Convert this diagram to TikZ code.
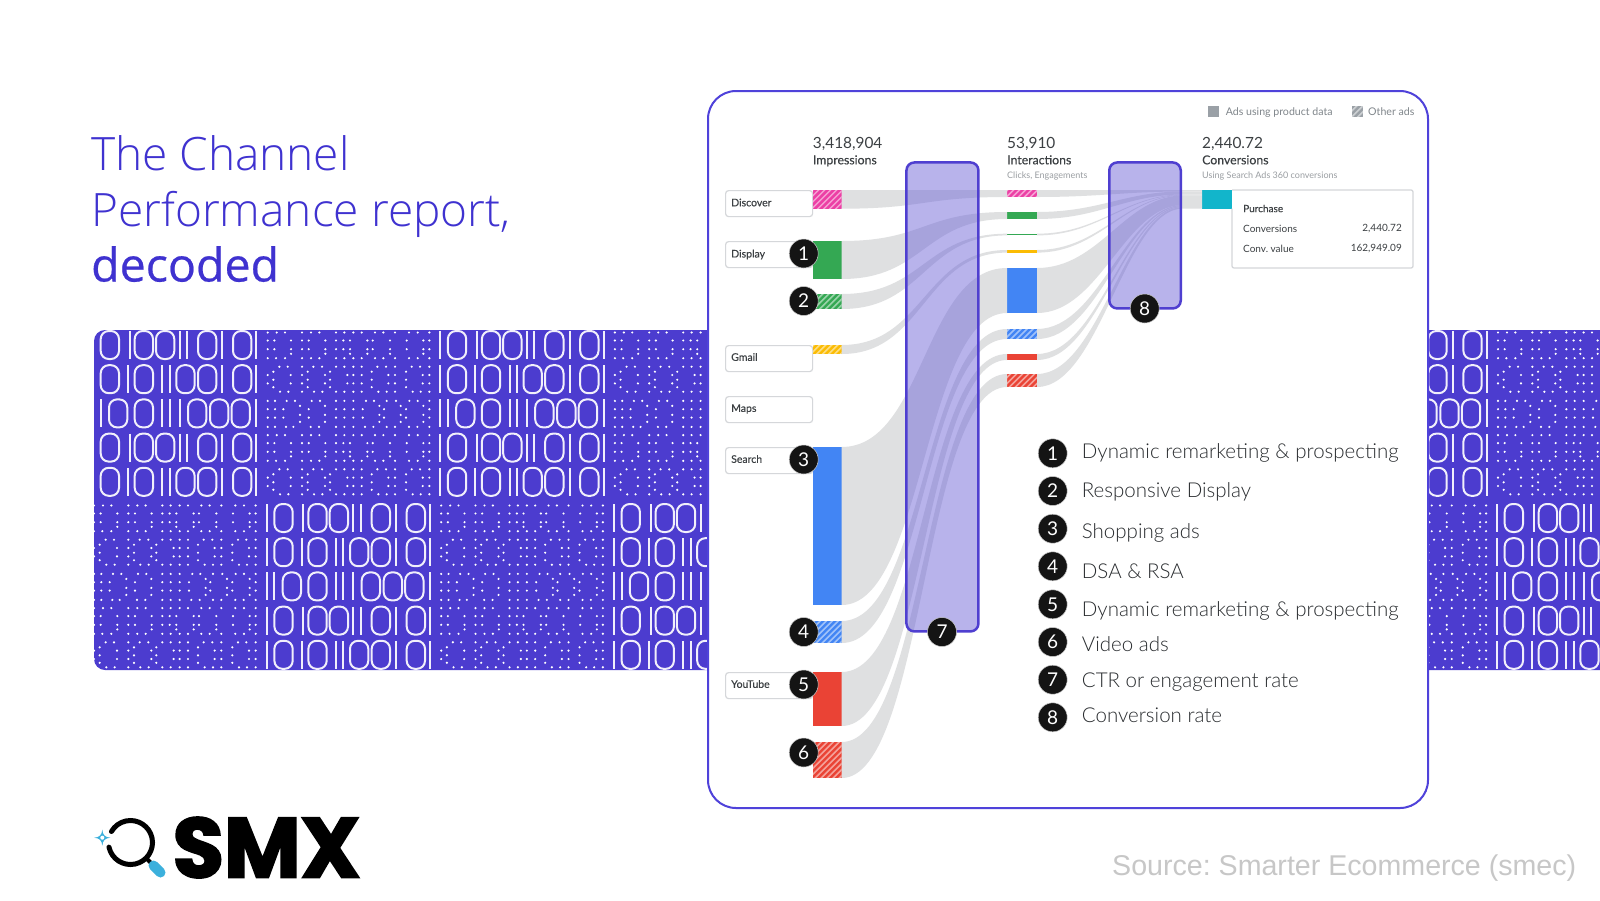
\documentclass[tikz,border=0pt]{standalone}
\usepackage{fontspec}
\setmainfont{Lato}
\newfontfamily\ttlfont{Open Sans Light}
\newfontfamily\ttlbold[FakeBold=0.5]{Open Sans}
\newfontfamily\listfont{Lato Light}
\newfontfamily\medfont[FakeBold=0.3]{Lato}
\newfontfamily\srcfont{Liberation Sans}
\newfontfamily\smxfont[FakeBold=2.5]{Poppins Bold}
\usetikzlibrary{calc}
\definecolor{band}{HTML}{4C3CCF}
\definecolor{cardline}{HTML}{4F42DA}
\definecolor{ttl}{HTML}{3F32D0}
\definecolor{rib}{HTML}{DFE0E1}
\definecolor{boxline}{HTML}{4F3FD0}
\definecolor{boxfill}{HTML}{6B61D7}
\definecolor{lblline}{HTML}{D5D7DA}
\definecolor{ink}{HTML}{3C4043}
\definecolor{listink}{HTML}{2A2D30}
\definecolor{sub}{HTML}{80868B}
\definecolor{cpink}{HTML}{EC3FA5}
\definecolor{cgreen}{HTML}{34A853}
\definecolor{cyellow}{HTML}{FBBC04}
\definecolor{cblue}{HTML}{4285F4}
\definecolor{cred}{HTML}{EA4335}
\definecolor{cteal}{HTML}{12B5CB}
\definecolor{lgrey}{HTML}{9AA0A6}
\definecolor{logoblue}{HTML}{3CB0DC}
\tikzset{
  binstroke/.style={draw=white!92!band,line width=2pt},
  lblbox/.style={draw=lblline,line width=1.2pt,fill=white,rounded corners=3pt,minimum width=87pt,minimum height=26pt,inner sep=0pt,anchor=north west},
  lbltext/.style={font=\medfont\fontsize{10.5}{12}\selectfont,text=ink,anchor=west,inner sep=0pt},
  sbar/.style={fill=#1,inner sep=0pt,outer sep=0pt,anchor=north west},
  hatch/.style={path picture={
    \foreach \k in {-90,-84,...,90}
      \draw[white,opacity=.5,line width=1.5pt,shift={(path picture bounding box.center)}] (\k-70,70) -- (\k+70,-70);}},
  ribbon/.style={fill=rib,draw=none},
  kpi/.style={font=\fontsize{15.4}{18}\selectfont,text=ink,anchor=base west,inner sep=0pt},
  kpilab/.style={font=\medfont\fontsize{12.3}{14}\selectfont,text=ink,anchor=base west,inner sep=0pt},
  kpisub/.style={font=\fontsize{9}{11}\selectfont,text=sub!80,anchor=base west,inner sep=0pt},
  smalltxt/.style={font=\fontsize{10}{12}\selectfont,text=ink,inner sep=0pt},
  legtxt/.style={font=\fontsize{10.6}{12}\selectfont,text=sub,anchor=base west,inner sep=0pt},
  funnel/.style={draw=boxline,line width=2.5pt,fill=boxfill,fill opacity=.48,rounded corners=8pt,inner sep=0pt,anchor=north west},
  marker/.style={circle,fill=black!92,draw=white!80!black,line width=.5pt,text=white,inner sep=0pt,minimum size=29pt,font=\fontsize{19}{20}\selectfont},
  listtxt/.style={font=\listfont\fontsize{20.5}{24}\selectfont,text=listink,anchor=base west,inner sep=0pt},
  ttltxt/.style={font=\ttlfont\fontsize{46}{50}\selectfont,text=ttl,anchor=base west,inner sep=0pt},
}
% binary glyph row: x0, top y, bars, zeros
\newcommand{\binrow}[4]{%
  \foreach \b in {#3} \draw[binstroke] ({#1+\b},#2) -- ({#1+\b},{#2+28});
  \foreach \o in {#4} \draw[binstroke,rounded corners=8pt] ({#1+\o},#2) rectangle ({#1+\o+18.3},{#2+28});
}
\newcommand{\rowA}[2]{\binrow{#1}{#2}{0,36.7,86.7,94,129.3,163.3}{7.7,41.7,63,105,140}}
\newcommand{\rowB}[2]{\binrow{#1}{#2}{0,35,69.3,76.7,129.3,163.3}{7.7,41.7,83.3,105,140}}
\newcommand{\rowC}[2]{\binrow{#1}{#2}{0,7.7,69.3,76.7,86.7,163.3}{16,41.7,95,117,138.5}}
\newcommand{\binblock}[2]{\rowA{#1}{#2}\rowB{#1}{#2+34.2}\rowC{#1}{#2+68.4}\rowA{#1}{#2+102.6}\rowB{#1}{#2+136.8}}
% dotted cell rows
\newcommand{\dl}[3]{\foreach \x in {#3} \fill[white] ({#1+(\x-20)/3},{#2}) circle[radius=1.2pt];}
\newcommand{\dotA}[2]{%
  \dl{#1}{#2+1.5}{23,50,75,126,153,178,228,253,280,305,345,370,405,447,473,508}
  \dl{#1}{#2+9.5}{23,43,93,126,146,196,228,250,270,322,338,390,440,490,508}
  \dl{#1}{#2+18.2}{23,43,93,126,146,196,228,250,270,322,338,390,440,490,508}
  \dl{#1}{#2+22.8}{93,196,270,322,390,490}
  \dl{#1}{#2+27.2}{23,48,75,126,153,178,228,253,280,305,345,370,405,447,473,508}}
\newcommand{\dotB}[2]{%
  \dl{#1}{#2+1.5}{58,83,126,160,186,228,253,280,305,352,378,405,455,480,508}
  \dl{#1}{#2+6.5}{40,143,210,335,438}
  \dl{#1}{#2+9.8}{23,92,126,195,262,280,305,385,405,488,508}
  \dl{#1}{#2+14.5}{40,143,210,335,438}
  \dl{#1}{#2+18.2}{23,92,126,195,262,280,305,385,405,488,508}
  \dl{#1}{#2+22}{40,143,210,335,438}
  \dl{#1}{#2+26.5}{60,85,126,162,187,228,253,280,305,355,380,405,458,482,508}}
\newcommand{\dotC}[2]{%
  \dl{#1}{#2+1.5}{23,45,80,105,155,180,228,253,280,318,342,380,408,448,473,508}
  \dl{#1}{#2+6.5}{120,195,358,422,490}
  \dl{#1}{#2+9.8}{23,45,70,146,228,253,280,308,372,438,508}
  \dl{#1}{#2+15.5}{120,195,358,422,490}
  \dl{#1}{#2+18.2}{23,45,70,146,228,253,280,308,372,438,508}
  \dl{#1}{#2+22.5}{120,195,358,422,490}
  \dl{#1}{#2+27.5}{23,45,78,100,152,177,228,253,280,315,340,380,405,447,472,508}}
\newcommand{\dotblock}[2]{\dotA{#1}{#2}\dotB{#1}{#2+34.2}\dotC{#1}{#2+68.4}\dotA{#1}{#2+102.6}\dotB{#1}{#2+136.8}}
% bar node: name, x1,y1,x2,y2, colour, extra
\newcommand{\barnode}[7][]{\node[sbar=#6,minimum width={#4-#2},minimum height={#5-#3},#7] (#1) at (#2,#3) {};}
% ribbon stage 1: from node to node via mid coordinate m1
\newcommand{\ribA}[2]{\path[ribbon] (#1.north east) .. controls (m1 |- #1.north east) and (m1 |- #2.north west) .. (#2.north west)
  -- (#2.south west) .. controls (m1 |- #2.south west) and (m1 |- #1.south east) .. (#1.south east) -- cycle;}
% ribbon stage 2: from node to stack coordinates in front of the conversions bar
\newcommand{\ribB}[3]{\path[ribbon] (#1.north east) .. controls (m2 |- #1.north east) and (m3 |- #2) .. (#2) -- (cv.north west |- #2)
  -- (cv.north west |- #3) -- (#3) .. controls (m3 |- #3) and (m2 |- #1.south east) .. (#1.south east) -- cycle;}
\begin{document}
\frenchspacing
\begin{tikzpicture}[x=1pt,y=-1pt]
\useasboundingbox (0,0) rectangle (1600,900);
\fill[white] (0,0) rectangle (1600,900);
% band
\begin{scope}
  \clip[rounded corners=11pt] (94,330) rectangle (1640,670);
  \fill[band] (90,325) rectangle (1600,675);
  \binblock{93}{331}\binblock{440.2}{331}
  \binblock{266.7}{504}\binblock{613.9}{504}
  \dotblock{266.7}{331}\dotblock{613.9}{331}
  \dotblock{93}{504}\dotblock{440.2}{504}
  \binblock{1323.4}{331}\dotblock{1497}{331}
  \dotblock{1323.4}{504}\binblock{1497}{504}
\end{scope}
% title
\node[ttltxt] (t1) at (91,170.3) {The Channel};
\node[ttltxt] (t2) at (91,226) {Performance report,};
\node[ttltxt,font=\ttlbold\fontsize{46.5}{50}\selectfont] (t3) at (91,281.5) {decoded};
% card
\node[draw=cardline,line width=2pt,fill=white,rounded corners=28pt,inner sep=0pt,anchor=north west,minimum width=720pt,minimum height=717pt] (card) at (707,90) {};
% legend at top
\node[sbar=lgrey,minimum width=11.6pt,minimum height=11pt] (lg1) at (1207.7,105.7) {};
\node[legtxt] (lg1t) at (1225.7,115.5) {Ads using product data};
\node[sbar=lgrey,minimum width=11.6pt,minimum height=11pt,hatch] (lg2) at (1351.7,105.7) {};
\node[legtxt] (lg2t) at (1368,115.5) {Other ads};
% headers
\node[kpi] (k1) at (812.7,148) {3,418,904};
\node[kpilab] (k1l) at (812.7,164.3) {Impressions};
\node[kpi] (k2) at (1007,148) {53,910};
\node[kpilab] (k2l) at (1007,164.3) {Interactions};
\node[kpisub] (k2s) at (1007,178) {Clicks, Engagements};
\node[kpi] (k3) at (1202,148) {2,440.72};
\node[kpilab] (k3l) at (1202,164.3) {Conversions};
\node[kpisub] (k3s) at (1202,178) {Using Search Ads 360 conversions};
% channel labels
\node[lblbox] (lDisc) at (725,190) {};
\node[lblbox] (lDisp) at (725,241) {};
\node[lblbox] (lGm) at (725,345) {};
\node[lblbox] (lMap) at (725,396) {};
\node[lblbox] (lSe) at (725,447) {};
\node[lblbox] (lYt) at (725,672) {};
\node[lbltext] (lDiscT) at (731,202.5) {Discover};
\node[lbltext] (lDispT) at (731,254.5) {Display};
\node[lbltext] (lGmT) at (731,357) {Gmail};
\node[lbltext] (lMapT) at (731,409) {Maps};
\node[lbltext] (lSeT) at (731,459) {Search};
\node[lbltext] (lYtT) at (731,684) {YouTube};
% impression bars
\barnode[a1]{812.7}{190}{841.7}{208.7}{cpink}{hatch}
\barnode[a2]{812.7}{241}{841.7}{279}{cgreen}{}
\barnode[a3]{812.7}{294}{841.7}{309}{cgreen}{hatch}
\barnode[a4]{812.7}{345}{841.7}{354}{cyellow}{hatch}
\barnode[a5]{812.7}{447}{841.7}{605}{cblue}{}
\barnode[a6]{812.7}{621}{841.7}{643}{cblue}{hatch}
\barnode[a7]{812.7}{672}{841.7}{726}{cred}{}
\barnode[a8]{812.7}{742}{841.7}{778}{cred}{hatch}
% interaction bars
\barnode[b1]{1007}{190}{1037}{197}{cpink}{hatch}
\barnode[b2]{1007}{212}{1037}{219}{cgreen}{}
\barnode[b3]{1007}{233.7}{1037}{235.4}{cgreen}{}
\barnode[b4]{1007}{250}{1037}{252.6}{cyellow}{}
\barnode[b5]{1007}{268}{1037}{313}{cblue}{}
\barnode[b6]{1007}{329}{1037}{339}{cblue}{hatch}
\barnode[b7]{1007}{354}{1037}{360}{cred}{}
\barnode[b8]{1007}{374}{1037}{387}{cred}{hatch}
% conversion bar
\barnode[cv]{1202}{190}{1232}{208.5}{cteal}{}
% purchase box
\draw[lblline,line width=1.3pt,rounded corners=2pt] (cv.north east) -- (1413,190) -- (1413,268) -- (1232,268) -- (cv.south east);
\node[smalltxt,anchor=west,font=\medfont\fontsize{10}{12}\selectfont] (pu) at (1243,208.5) {Purchase};
\node[smalltxt,anchor=west] (pu1) at (1243,228.5) {Conversions};
\node[smalltxt,anchor=west] (pu2) at (1243,249) {Conv. value};
\node[smalltxt,anchor=east] (pu1v) at (1402,228.5) {2,440.72};
\node[smalltxt,anchor=east] (pu2v) at (1402,249) {162,949.09};
% ribbon helpers
\coordinate (m1) at (924,0);
\coordinate (m2) at (1100,0);
\coordinate (m3) at (1125,0);
\coordinate (s0) at (1183,190);
\coordinate (s1) at (1183,191.5);
\coordinate (s2) at (1183,194.5);
\coordinate (s3) at (1183,195);
\coordinate (s4) at (1183,195.5);
\coordinate (s5) at (1183,205);
\coordinate (s6) at (1183,206);
\coordinate (s7) at (1183,207);
\coordinate (s8) at (1183,208.5);
% ribbons
\ribA{a1}{b1}\ribA{a2}{b2}\ribA{a3}{b3}\ribA{a4}{b4}
\ribA{a5}{b5}\ribA{a6}{b6}\ribA{a7}{b7}\ribA{a8}{b8}
\ribB{b1}{s0}{s1}\ribB{b2}{s1}{s2}\ribB{b3}{s2}{s3}\ribB{b4}{s3}{s4}
\ribB{b5}{s4}{s5}\ribB{b6}{s5}{s6}\ribB{b7}{s6}{s7}\ribB{b8}{s7}{s8}
% funnel boxes
\node[funnel,minimum width=72pt,minimum height=469pt] (f7) at (905.2,161.2) {};
\node[funnel,minimum width=71.5pt,minimum height=146pt] (f8) at (1108,161.2) {};
% markers
\node[marker] (n1) at (803.7,253.5) {1};
\node[marker] (n2) at (803.7,301) {2};
\node[marker] (n3) at (803.7,459.5) {3};
\node[marker] (n4) at (803.7,632) {4};
\node[marker] (n5) at (803.7,684.5) {5};
\node[marker] (n6) at (803.7,752.5) {6};
\node[marker] (n7) at (942,632) {7};
\node[marker] (n8) at (1144.7,308.5) {8};
% numbered list
\node[marker] (m1n) at (1052.7,453.3) {1};
\node[marker] (m2n) at (1052.7,491) {2};
\node[marker] (m3n) at (1052.7,528.7) {3};
\node[marker] (m4n) at (1052.7,566.3) {4};
\node[marker] (m5n) at (1052.7,604.3) {5};
\node[marker] (m6n) at (1052.7,642) {6};
\node[marker] (m7n) at (1052.7,679.7) {7};
\node[marker] (m8n) at (1052.7,717.3) {8};
\node[listtxt] (L1) at (1081.7,458.3) {Dynamic remarketing \& prospecting};
\node[listtxt] (L2) at (1081.7,497.7) {Responsive Display};
\node[listtxt] (L3) at (1081.7,538.3) {Shopping ads};
\node[listtxt] (L4) at (1081.7,578.2) {DSA \& RSA};
\node[listtxt] (L5) at (1081.7,616.7) {Dynamic remarketing \& prospecting};
\node[listtxt] (L6) at (1081.7,651.7) {Video ads};
\node[listtxt] (L7) at (1081.7,687) {CTR or engagement rate};
\node[listtxt] (L8) at (1081.7,722.7) {Conversion rate};
% source
\node[font=\srcfont\fontsize{28.6}{32}\selectfont,text=black!22,anchor=base west,inner sep=0pt] (src) at (1112,875) {Source: Smarter Ecommerce (smec)};
% logo
\draw[black,line width=5pt,line cap=round] (130.5,842.5) ++(192:22pt) arc[start angle=192,end angle=510,radius=22pt];
\draw[black,line width=4pt] (146,858) -- (153,865);
\draw[logoblue,line width=10pt,line cap=round] (153.5,865.5) -- (160.5,872.5);
\fill[logoblue] (102.3,829.7) .. controls (102.8,835) and (105,837.2) .. (110.3,837.7) .. controls (105,838.2) and (102.8,840.4) .. (102.3,845.7) .. controls (101.8,840.4) and (99.6,838.2) .. (94.3,837.7) .. controls (99.6,837.2) and (101.8,835) .. (102.3,829.7) -- cycle;
\fill[white] (102.3,837.7) circle[radius=2pt];
\node[anchor=north west,inner sep=0pt] (smx) at (172.5,817) {\resizebox{187.6pt}{60pt}{\smxfont SMX}};
\end{tikzpicture}
\end{document}
